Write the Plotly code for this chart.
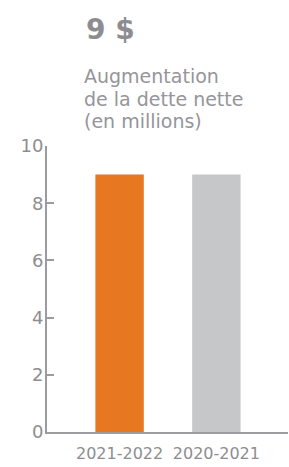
import plotly.graph_objects as go

categories = ["2021-2022", "2020-2021"]
values = [9, 9]
bar_colors = ["#E87722", "#C6C7C8"]
title_text = "9 $"
subtitle_lines = ["Augmentation", "de la dette nette", "(en millions)"]

TXT = "#8D8D91"
AX = "#9C9CA0"
FONT = "DejaVu Sans"

fig = go.Figure(go.Bar(
    x=[0, 1], y=values, marker=dict(color=bar_colors, line=dict(width=0)),
    width=0.5, hoverinfo="skip"))

L, T, B, R = 47, 146, 35, 1
W, H = 289, 467
pw, ph = W - L - R, H - T - B

def px_x(p):
    return (p - L) / pw

def px_y(p):
    return (H - B - p) / ph

fig.update_layout(
    width=W, height=H, margin=dict(l=L, r=R, t=T, b=B, autoexpand=False),
    paper_bgcolor="white", plot_bgcolor="white", showlegend=False,
    font=dict(family=FONT, color=TXT),
    xaxis=dict(range=[-0.75, 1.74], tickmode="array", tickvals=[0, 1], ticktext=categories,
               showline=True, linecolor=AX, linewidth=2, ticks="", showgrid=False,
               zeroline=False, tickfont=dict(size=16, color=TXT), ticklabelstandoff=6,
               automargin=False),
    yaxis=dict(range=[0, 10], dtick=2, showline=True, linecolor=AX, linewidth=2,
               ticks="inside", ticklen=7, tickwidth=2, tickcolor=AX, showgrid=False,
               zeroline=False, tickfont=dict(size=18, color=TXT), ticklabelstandoff=-2,
               automargin=False),
)

fig.add_annotation(xref="paper", yref="paper", x=px_x(84), y=px_y(10.5), xanchor="left", yanchor="top",
                   text="<b>" + title_text + "</b>", showarrow=False,
                   font=dict(size=28, color=TXT, family=FONT))
sub_tops = [63.5, 85.5, 107.5]
for line, top in zip(subtitle_lines, sub_tops):
    fig.add_annotation(xref="paper", yref="paper", x=px_x(82), y=px_y(top), xanchor="left",
                       yanchor="top", text=line, showarrow=False, align="left",
                       font=dict(size=19, color="#95959A", family=FONT))

fig.write_html("out.html", config={"displayModeBar": False},
               post_script="document.body.style.margin='0';document.body.style.overflow='hidden';")
